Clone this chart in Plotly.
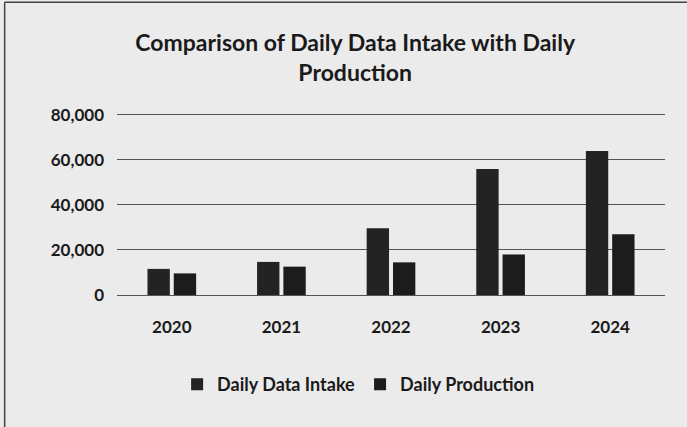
import plotly.graph_objects as go

years = ["2020", "2021", "2022", "2023", "2024"]
intake = [11600, 14700, 29600, 56000, 64000]
production = [9600, 12600, 14500, 18000, 27000]
y_ticks = [0, 20000, 40000, 60000, 80000]
y_tick_labels = ["0", "20,000", "40,000", "60,000", "80,000"]

font_family = "Lato, Open Sans, sans-serif"
txt = "#1a1a1a"

fig = go.Figure()
fig.add_trace(go.Bar(x=years, y=intake, name="<b>Daily Data Intake</b>",
                     marker=dict(color="#232323", line=dict(width=0))))
fig.add_trace(go.Bar(x=years, y=production, name="<b>Daily Production</b>",
                     marker=dict(color="#1c1c1c", line=dict(width=0))))

fig.update_layout(
    width=687, height=427,
    paper_bgcolor="#ebebeb", plot_bgcolor="#ebebeb",
    margin=dict(l=117, r=22, t=112, b=132),
    barmode="group", bargap=0.52, bargroupgap=0.15,
    title=dict(text="<b>Comparison of Daily Data Intake with Daily<br>Production</b>",
               x=0.517, xanchor="center", y=0.88, yanchor="middle",
               font=dict(family=font_family, size=23, color=txt)),
    font=dict(family=font_family, color=txt),
    showlegend=True,
    legend=dict(orientation="h", x=0.44, xanchor="center", y=-0.49, yanchor="middle",
                font=dict(size=18, family=font_family, color=txt),
                bgcolor="rgba(0,0,0,0)", itemwidth=30),
    xaxis=dict(showgrid=False, zeroline=False, showline=False,
               tickvals=years, ticktext=["<b>%s</b>" % y for y in years],
               tickfont=dict(size=17, family=font_family, color=txt),
               ticklabelstandoff=20),
    yaxis=dict(range=[0, 81300], tickvals=y_ticks,
               ticktext=["<b>%s</b>" % t for t in y_tick_labels],
               showgrid=True, gridcolor="#555555", gridwidth=1.3,
               zeroline=True, zerolinecolor="#555555", zerolinewidth=1.3,
               showline=False,
               tickfont=dict(size=17, family=font_family, color=txt),
               ticklabelstandoff=12),
    shapes=[
        dict(type="line", xref="paper", yref="paper", x0=-0.205, x1=1.1, y0=1.6, y1=1.6,
             line=dict(color="#444444", width=1.5)),
        dict(type="line", xref="paper", yref="paper", x0=-0.205, x1=-0.205, y0=-0.75, y1=1.6,
             line=dict(color="#444444", width=1.5)),
    ],
)

fig.write_html("out.html")
